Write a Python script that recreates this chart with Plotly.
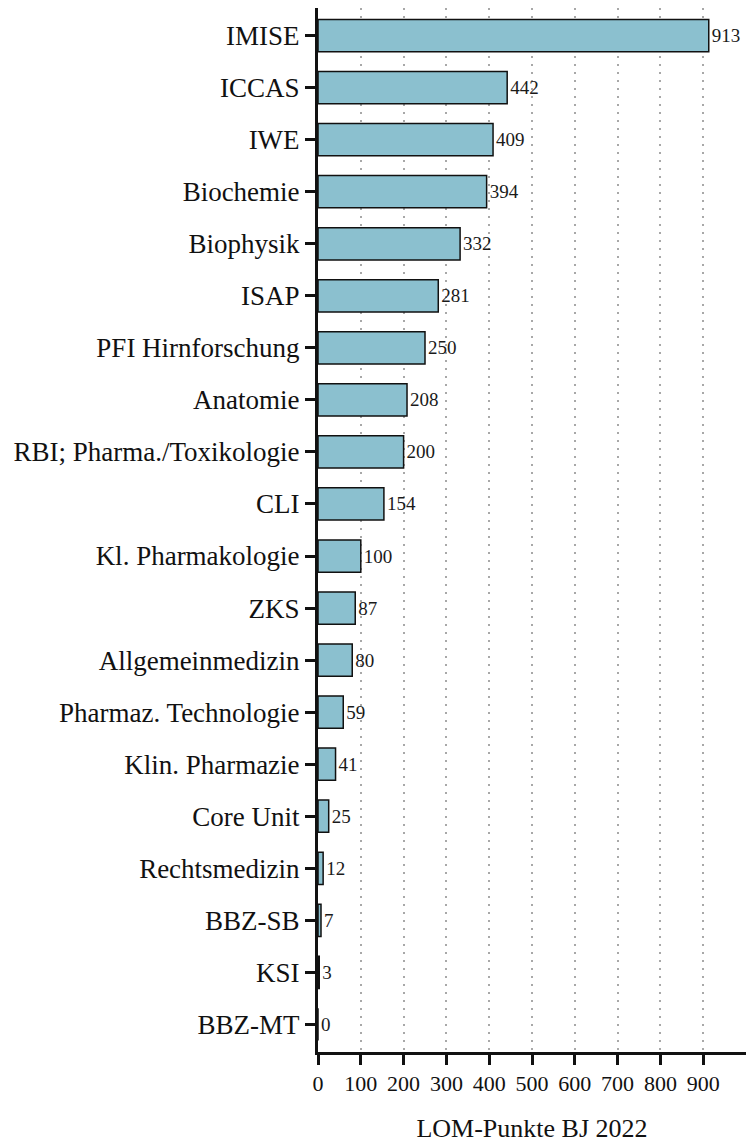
import plotly.graph_objects as go

categories = ["IMISE", "ICCAS", "IWE", "Biochemie", "Biophysik", "ISAP", "PFI Hirnforschung",
              "Anatomie", "RBI; Pharma./Toxikologie", "CLI", "Kl. Pharmakologie", "ZKS",
              "Allgemeinmedizin", "Pharmaz. Technologie", "Klin. Pharmazie", "Core Unit",
              "Rechtsmedizin", "BBZ-SB", "KSI", "BBZ-MT"]
values = [913, 442, 409, 394, 332, 281, 250, 208, 200, 154, 100, 87, 80, 59, 41, 25, 12, 7, 3, 0]
x_ticks = [0, 100, 200, 300, 400, 500, 600, 700, 800, 900]

font = "Liberation Serif"

fig = go.Figure(go.Bar(
    x=values, y=categories, orientation="h",
    marker=dict(color="#8BC0CF", line=dict(color="#111111", width=1.5)),
    width=0.62,
    text=[str(v) for v in values], textposition="outside",
    textfont=dict(family=font, size=19, color="#1a1a1a"),
    cliponaxis=False,
    hoverinfo="skip",
))

fig.update_layout(
    width=746, height=1143,
    margin=dict(l=318, r=0, t=8, b=91),
    plot_bgcolor="white", paper_bgcolor="white",
    showlegend=False,
    font=dict(family=font, color="#111111"),
    xaxis=dict(
        range=[0, 1000], tickvals=x_ticks, ticktext=[str(t) for t in x_ticks],
        automargin=False,
        showline=True, linecolor="#111111", linewidth=3,
        ticks="outside", ticklen=10, tickwidth=3, tickcolor="#111111",
        tickfont=dict(family=font, size=22, color="#111111"),
        showgrid=True, gridcolor="#A8A8A8", gridwidth=2, griddash="2px,6px",
        zeroline=False,
        title=dict(text="LOM-Punkte BJ 2022", font=dict(family=font, size=26, color="#111111"), standoff=33),
    ),
    yaxis=dict(
        type="category", categoryorder="array", categoryarray=categories,
        range=[19.53, -0.53], automargin=False,
        showline=True, linecolor="#111111", linewidth=3,
        ticks="outside", ticklen=10, tickwidth=3, tickcolor="#111111",
        tickfont=dict(family=font, size=27, color="#111111"),
        showgrid=False, zeroline=False,
    ),
)

fig.write_html("out.html", config={"displayModeBar": False},
               post_script="document.body.style.margin='0';document.body.style.overflow='hidden';")
